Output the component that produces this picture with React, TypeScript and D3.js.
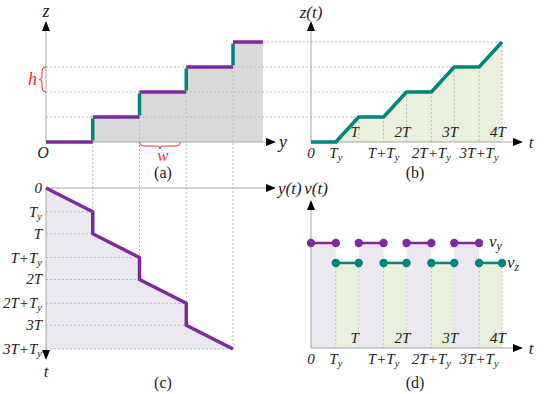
import React from 'react';
import * as d3 from 'd3';

// step geometry (units of w and h), period T = 1, Ty as a fraction of T
const stepEdges = [0, 1, 2, 3, 4];
const stepLevels = [0, 1, 2, 3, 4];
const stepEnd = 4.64;
const Ty = 0.52;
const periods = [0, 1, 2, 3];
const vyValue = 1.0;
const vzValue = 0.81;

// time tick labels
const bottomTicks = [
  { t: 0, label: '0', sub: false },
  { t: Ty, label: 'T', sub: true },
  { t: 1 + Ty, label: 'T+T', sub: true },
  { t: 2 + Ty, label: '2T+T', sub: true },
  { t: 3 + Ty, label: '3T+T', sub: true },
];
const topTicks = [
  { t: 1, label: 'T' },
  { t: 2, label: '2T' },
  { t: 3, label: '3T' },
  { t: 4, label: '4T' },
];
const cRows = [
  { t: 0, label: '0', sub: false },
  { t: Ty, label: 'T', sub: true },
  { t: 1, label: 'T', sub: false },
  { t: 1 + Ty, label: 'T+T', sub: true },
  { t: 2, label: '2T', sub: false },
  { t: 2 + Ty, label: '2T+T', sub: true },
  { t: 3, label: '3T', sub: false },
  { t: 3 + Ty, label: '3T+T', sub: true },
];

const PURPLE = '#7d2a9e';
const TEAL = '#00857c';
const GRID = '#bdbdbd';
const AXIS = '#a6a6a6';
const FONT = 'Liberation Serif';

const xA = d3.scaleLinear().domain([0, 4]).range([46, 233]);
const zA = d3.scaleLinear().domain([0, 4]).range([142, 42]);
const tB = d3.scaleLinear().domain([0, 4]).range([311, 502]);
const tC = d3.scaleLinear().domain([0, 3 + Ty]).range([188, 349]);
const vD = d3.scaleLinear().domain([0, vyValue]).range([348, 243]);

const Arrow = ({ x, y, dir }: { x: number; y: number; dir: string }) => {
  const s = 4, l = 10;
  let pts = '';
  if (dir === 'up') pts = `${x},${y} ${x - s},${y + l} ${x + s},${y + l}`;
  if (dir === 'right') pts = `${x},${y} ${x - l},${y - s} ${x - l},${y + s}`;
  if (dir === 'down') pts = `${x},${y} ${x - s},${y - l} ${x + s},${y - l}`;
  return <polygon points={pts} fill="#000" />;
};

const Lbl = ({ x, y, text, sub, anchor = 'middle', size = 14, color = '#222', italic = true }: any) => (
  <text x={x} y={y} textAnchor={anchor} style={{ fontFamily: FONT, fontStyle: italic ? 'italic' : 'normal', fontSize: size }} fill={color}>
    {text}
    {sub && <tspan style={{ fontSize: size * 0.7 }} dy={3}>y</tspan>}
  </text>
);

export default function App() {
  // panel (a) staircase
  const aPath: [number, number][] = [];
  stepEdges.forEach((e, i) => {
    const next = i < stepEdges.length - 1 ? stepEdges[i + 1] : stepEnd;
    aPath.push([e, stepLevels[i]], [next, stepLevels[i]]);
  });
  const areaA = d3.area<[number, number]>().x(d => xA(d[0])).y0(zA(0)).y1(d => zA(d[1]));

  // panel (b) z(t)
  const bPts: [number, number][] = [[0, 0]];
  periods.forEach(k => {
    bPts.push([k + Ty, k], [k + 1, k + 1]);
  });
  const lineB = d3.line<[number, number]>().x(d => tB(d[0])).y(d => zA(d[1]));
  const areaB = d3.area<[number, number]>().x(d => tB(d[0])).y0(zA(0)).y1(d => zA(d[1]));

  // panel (c) y(t): t down, y right
  const cPts: [number, number][] = [];
  periods.forEach(k => {
    cPts.push([k, k], [k + Ty, k + 1]);
  });
  const lineC = d3.line<[number, number]>().x(d => xA(d[1])).y(d => tC(d[0]));
  const polyC = [...cPts.map(d => [xA(d[1]), tC(d[0])]), [xA(0), tC(3 + Ty)]];

  return (
    <svg width={550} height={394} style={{ position: 'absolute', left: 0, top: 0, background: '#fff' }}>
      {/* ---------- (a) ---------- */}
      <path d={areaA(aPath) || ''} fill="#d9d9d9" />
      {stepLevels.slice(1, 4).map(l => (
        <line key={'ha' + l} x1={46} x2={tB(l)} y1={zA(l)} y2={zA(l)} stroke={GRID} strokeDasharray="2,2" />
      ))}
      <line x1={xA(stepEnd)} x2={tB(4)} y1={zA(4)} y2={zA(4)} stroke={GRID} strokeDasharray="2,2" />
      {stepEdges.slice(1).map((e, i) => (
        <line key={'va' + e} x1={xA(e)} x2={xA(e)} y1={zA(stepLevels[i])} y2={tC(e - 1 + Ty)} stroke={GRID} strokeDasharray="2,2" />
      ))}
      <line x1={46} x2={46} y1={142} y2={26} stroke={AXIS} />
      <line x1={46} x2={268} y1={142} y2={142} stroke={AXIS} />
      <Arrow x={46} y={21} dir="up" />
      <Arrow x={276} y={142} dir="right" />
      {stepLevels.map((l, i) => {
        const next = i < stepEdges.length - 1 ? stepEdges[i + 1] : stepEnd;
        return <line key={'pa' + i} x1={xA(stepEdges[i])} x2={xA(next)} y1={zA(l)} y2={zA(l)} stroke={PURPLE} strokeWidth={3.5} />;
      })}
      {stepEdges.slice(1).map((e, i) => (
        <line key={'ta' + e} x1={xA(e)} x2={xA(e)} y1={zA(stepLevels[i]) - 1.5} y2={zA(stepLevels[i + 1]) + 1.5} stroke={TEAL} strokeWidth={3.5} />
      ))}
      <Lbl x={46} y={17} text="z" size={18} />
      <Lbl x={283} y={148} text="y" size={18} />
      <Lbl x={43} y={158} text="O" size={16} />
      <Lbl x={163} y={178} text="(a)" size={16} italic={false} />
      {/* h brace */}
      <path d={`M46,${zA(3)} q-4,0 -4,4 v6 q0,2.5 -3,2.5 q3,0 3,2.5 v6 q0,4 4,4`} fill="none" stroke="#e8312f" strokeWidth={1} />
      <Lbl x={37} y={(zA(2) + zA(3)) / 2 + 5} text="h" size={18} color="#e8312f" anchor="end" />
      {/* w brace */}
      <path d={`M${xA(2)},142 q0,4 4,4 h14 q2.5,0 2.5,3 q0,-3 2.5,-3 h14 q4,0 4,-4`} fill="none" stroke="#e8312f" strokeWidth={1} />
      <Lbl x={(xA(2) + xA(3)) / 2} y={161} text="w" size={17} color="#e8312f" />

      {/* ---------- (b) ---------- */}
      <path d={areaB(bPts) || ''} fill="#e9f0dc" />
      {bPts.slice(1).map((d, i) => (
        <line key={'vb' + i} x1={tB(d[0])} x2={tB(d[0])} y1={zA(d[1])} y2={142} stroke={GRID} strokeDasharray="2,2" />
      ))}
      <line x1={311} x2={311} y1={142} y2={26} stroke={AXIS} />
      <line x1={311} x2={515} y1={142} y2={142} stroke={AXIS} />
      <Arrow x={311} y={21} dir="up" />
      <Arrow x={523} y={142} dir="right" />
      <path d={lineB(bPts) || ''} fill="none" stroke={TEAL} strokeWidth={3.5} strokeLinejoin="round" />
      <Lbl x={311} y={18} text="z(t)" size={17} />
      <Lbl x={531} y={148} text="t" size={17} />
      {topTicks.map(d => (
        <Lbl key={'tb' + d.t} x={tB(d.t) - 4} y={137} text={d.label} size={15} />
      ))}
      {bottomTicks.map(d => (
        <Lbl key={'bb' + d.t} x={tB(d.t)} y={158} text={d.label} sub={d.sub} size={15} />
      ))}
      <Lbl x={415} y={178} text="(b)" size={16} italic={false} />

      {/* ---------- (c) ---------- */}
      <polygon points={polyC.map(p => p.join(',')).join(' ')} fill="#ece8f1" />
      {cRows.slice(1).map(r => {
        const pt = cPts.find(p => Math.abs(p[0] - r.t) < 1e-6);
        const xe = pt ? xA(pt[1]) : 46;
        return <line key={'hc' + r.t} x1={46} x2={xe} y1={tC(r.t)} y2={tC(r.t)} stroke={GRID} strokeDasharray="2,2" />;
      })}
      <line x1={46} x2={46} y1={188} y2={352} stroke={AXIS} />
      <line x1={46} x2={268} y1={188} y2={188} stroke={AXIS} />
      <Arrow x={46} y={360} dir="down" />
      <Arrow x={276} y={188} dir="right" />
      <path d={lineC(cPts) || ''} fill="none" stroke={PURPLE} strokeWidth={3.5} strokeLinejoin="round" />
      {cRows.map(r => (
        <Lbl key={'lc' + r.t} x={42} y={tC(r.t) + 5} text={r.label} sub={r.sub} size={15} anchor="end" />
      ))}
      <Lbl x={278} y={194} text="y(t)" size={17} anchor="start" />
      <Lbl x={46} y={377} text="t" size={17} />
      <Lbl x={163} y={388} text="(c)" size={16} italic={false} />

      {/* ---------- (d) ---------- */}
      {periods.map(k => (
        <g key={'fd' + k}>
          <rect x={tB(k)} width={tB(k + Ty) - tB(k)} y={vD(vyValue)} height={348 - vD(vyValue)} fill="#ece8f1" />
          <rect x={tB(k + Ty)} width={tB(k + 1) - tB(k + Ty)} y={vD(vzValue)} height={348 - vD(vzValue)} fill="#e9f0dc" />
          <line x1={tB(k + Ty)} x2={tB(k + Ty)} y1={vD(vzValue)} y2={348} stroke={GRID} strokeDasharray="2,2" />
          <line x1={tB(k + 1)} x2={tB(k + 1)} y1={vD(vzValue)} y2={348} stroke={GRID} strokeDasharray="2,2" />
        </g>
      ))}
      <line x1={311} x2={311} y1={348} y2={206} stroke={AXIS} />
      <line x1={311} x2={515} y1={348} y2={348} stroke={AXIS} />
      <Arrow x={311} y={200} dir="up" />
      <Arrow x={523} y={348} dir="right" />
      {periods.map(k => (
        <g key={'sd' + k}>
          <line x1={tB(k)} x2={tB(k + Ty)} y1={vD(vyValue)} y2={vD(vyValue)} stroke={PURPLE} strokeWidth={2.5} />
          <circle cx={tB(k)} cy={vD(vyValue)} r={4.2} fill={PURPLE} />
          <circle cx={tB(k + Ty)} cy={vD(vyValue)} r={4.2} fill={PURPLE} />
          <line x1={tB(k + Ty)} x2={tB(k + 1)} y1={vD(vzValue)} y2={vD(vzValue)} stroke={TEAL} strokeWidth={2.5} />
          <circle cx={tB(k + Ty)} cy={vD(vzValue)} r={4.2} fill={TEAL} />
          <circle cx={tB(k + 1)} cy={vD(vzValue)} r={4.2} fill={TEAL} />
        </g>
      ))}
      <text x={489} y={vD(vyValue) + 4} style={{ fontFamily: FONT, fontStyle: 'italic', fontSize: 17 }} fill="#222">
        v<tspan dy={3} style={{ fontSize: 12 }}>y</tspan>
      </text>
      <text x={507} y={vD(vzValue) + 5} style={{ fontFamily: FONT, fontStyle: 'italic', fontSize: 17 }} fill="#222">
        v<tspan dy={3} style={{ fontSize: 12 }}>z</tspan>
      </text>
      <Lbl x={316} y={194} text="v(t)" size={17} />
      <Lbl x={531} y={354} text="t" size={17} />
      {topTicks.map(d => (
        <Lbl key={'td' + d.t} x={tB(d.t) - 4} y={343} text={d.label} size={15} />
      ))}
      {bottomTicks.map(d => (
        <Lbl key={'bd' + d.t} x={tB(d.t)} y={364} text={d.label} sub={d.sub} size={15} />
      ))}
      <Lbl x={415} y={388} text="(d)" size={16} italic={false} />
    </svg>
  );
}
